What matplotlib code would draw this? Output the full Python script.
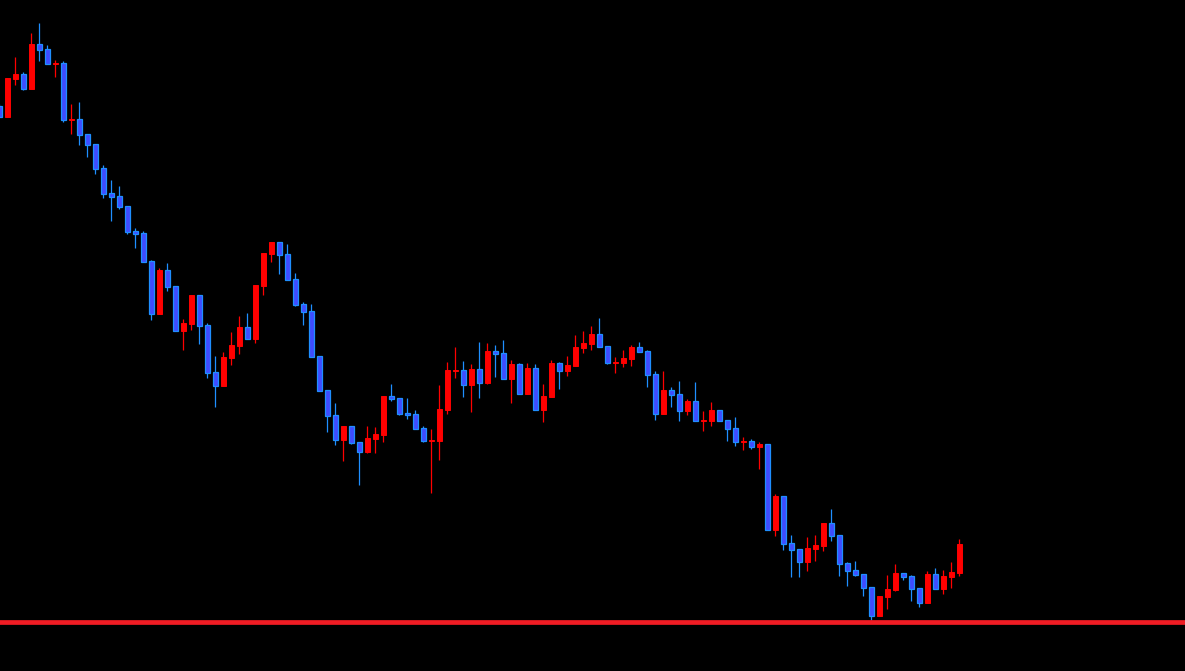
import numpy as np
import matplotlib
matplotlib.use("Agg")
from matplotlib import pyplot as plt

# OHLC, one candle per bar (price units)
opens = [594, 583, 621.3, 626, 611, 656, 651, 636.5, 637, 580.5,
         581, 566, 556, 532, 507, 504, 494, 469, 467, 439,
         386, 430, 414, 369, 376, 405, 375, 328, 314, 342,
         354, 373, 361, 414, 446, 458, 446, 421, 396, 389,
         344, 310, 285, 260, 274, 258, 248, 261.3, 265, 304,
         302, 287, 286, 272, 259.5, 259, 290, 329.5, 330, 315,
         331, 317, 349, 347, 321, 336, 306, 332, 290, 303,
         337, 329, 334, 352, 356, 366, 354, 337.5, 337, 341,
         353, 349, 326, 286, 310, 306, 289, 299, 279.5, 279,
         290, 280, 272, 258.5, 259, 253, 256, 170, 204, 157,
         151, 138, 151, 154, 177, 165, 137, 130, 126, 113,
         84, 103, 110, 127, 124, 112, 97, 126, 111, 123,
         127]
highs = [596, 622, 643, 628, 667, 677, 655, 640, 639, 596,
         598, 566, 556, 535, 520, 514, 494, 472, 469, 440,
         432, 437, 414, 381, 405, 405, 377, 344, 348, 368,
         384, 387, 415, 447, 458, 458, 456, 427, 398, 396,
         344, 310, 297, 274, 274, 258, 274, 273, 304, 316,
         302, 302, 290, 274, 271, 315, 338, 353, 339, 336,
         358, 357, 355, 360, 340, 337, 337, 336, 316, 340,
         338, 344, 365, 369, 374, 382, 354, 343, 350, 355,
         358, 350, 329, 329, 313, 319, 301, 318, 289, 298,
         290, 280, 283, 263, 261, 258, 256, 206, 204, 165,
         151, 163, 165, 177, 191, 165, 138, 139, 126, 113,
         104, 125, 136, 127, 125, 112, 129, 132, 130, 138,
         161]
lows = [583, 583, 615, 610, 611, 639, 636, 623, 578, 566,
        555, 543, 526, 502, 479, 491, 466, 452, 438, 380,
        386, 409, 369, 350, 370, 356, 322, 293, 314, 335,
        346, 361, 357, 405, 438, 426, 420, 394, 375, 343,
        309, 268, 255, 239, 256, 215, 247, 247, 258, 299,
        285, 281, 271, 258, 207, 240, 286, 322, 303, 288,
        302, 316, 323, 321, 297, 306, 306, 290, 278, 303,
        311, 324, 334, 347, 350, 353, 336, 327, 333, 334,
        348, 313, 280, 286, 293, 279, 285, 279, 269, 274,
        279, 259, 254, 250, 251, 231, 170, 164, 150, 123,
        123, 129, 139, 149, 159, 124, 114, 124, 104, 80,
        84, 91, 109, 120, 99, 93, 97, 111, 106, 112,
        124]
closes = [583, 622, 626, 611, 656, 650, 636, 637, 580, 581,
          565, 555, 531, 506, 503, 493, 468, 466, 438, 386,
          430, 413, 369, 377, 405, 374, 327, 314, 343, 355,
          373, 361, 415, 447, 458, 445, 420, 395, 388, 343,
          309, 284, 260, 274, 257, 248, 262, 266, 304, 301,
          286, 285, 271, 259, 260, 291, 330, 330, 315, 331,
          317, 349, 346, 321, 336, 306, 332, 290, 304, 337,
          329, 335, 353, 357, 366, 353, 337, 338, 342, 353,
          348, 325, 286, 310, 305, 289, 299, 279, 280, 290,
          279, 271, 258, 259, 253, 256, 170, 204, 156, 150,
          138, 152, 155, 177, 164, 136, 129, 125, 112, 84,
          104, 111, 127, 123, 111, 97, 126, 111, 124, 128,
          156]
support = 78

UP_COL = '#ff0000'
DN_FILL = '#3f4cff'
DN_EDGE = '#1f8fff'

fig = plt.figure(figsize=(11.85, 6.71), dpi=100, facecolor='black')
ax = fig.add_axes([0, 0, 1, 1])
ax.set_facecolor('black')

x = np.arange(len(opens))
o = np.array(opens, dtype=float)
h = np.array(highs, dtype=float)
l = np.array(lows, dtype=float)
c = np.array(closes, dtype=float)
up = c >= o

# wicks
ax.vlines(x[up], l[up], h[up], color=UP_COL, lw=0.9, zorder=1)
ax.vlines(x[~up], l[~up], h[~up], color=DN_EDGE, lw=0.9, zorder=1)

# bodies
bot = np.minimum(o, c)
hgt = np.maximum(np.abs(c - o), 0.8)
ax.bar(x[up], hgt[up], bottom=bot[up], width=0.56, color=UP_COL,
       edgecolor=UP_COL, lw=0.7, zorder=2)
ax.bar(x[~up], hgt[~up], bottom=bot[~up], width=0.56, color=DN_FILL,
       edgecolor=DN_EDGE, lw=0.9, zorder=2)

# horizontal level
ax.axhline(support, color='#f01c24', lw=3.4, zorder=3)

ax.set_xlim(0.0875, 148.2)
ax.set_ylim(29, 700)
ax.axis('off')

fig.savefig('out.png', dpi=100, facecolor='black')
